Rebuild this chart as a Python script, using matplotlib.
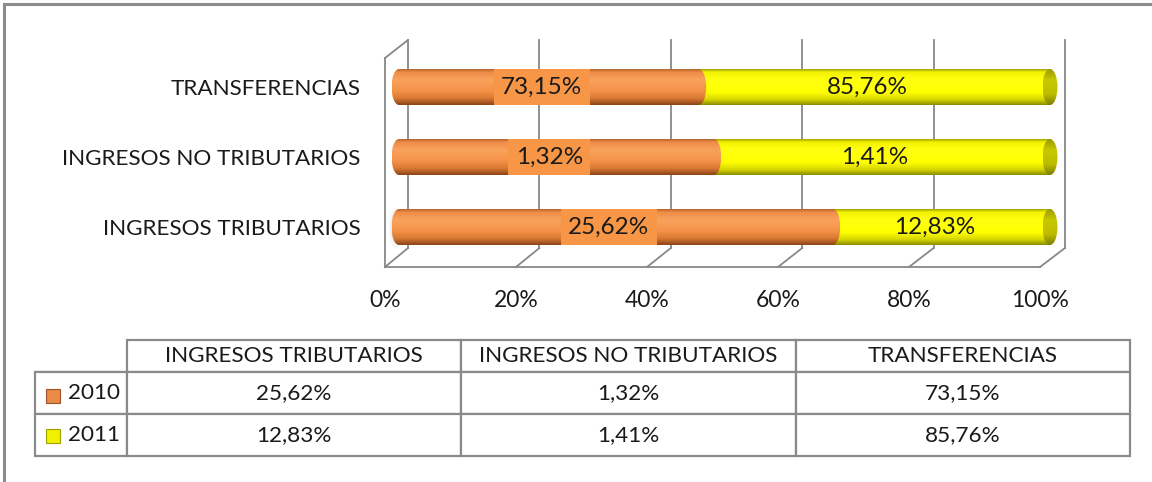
import numpy as np
import matplotlib
matplotlib.use('Agg')
import matplotlib.pyplot as plt
from matplotlib.patches import Ellipse, Rectangle
from matplotlib.lines import Line2D

plt.rcParams['font.family'] = ['Lato', 'DejaVu Sans']

categories = ['INGRESOS TRIBUTARIOS', 'INGRESOS NO TRIBUTARIOS', 'TRANSFERENCIAS']
years = ['2010', '2011']
v2010 = [25.62, 1.32, 73.15]
v2011 = [12.83, 1.41, 85.76]
ticks = [0, 0.2, 0.4, 0.6, 0.8, 1.0]
tick_labels = ['0%', '20%', '40%', '60%', '80%', '100%']

W, H = 1152, 482
fig = plt.figure(figsize=(W / 100, H / 100), dpi=100)


def fx(px):
    return px / W


def fy(py):
    return 1 - py / H


# figure frame (top and left edge visible)
fig.add_artist(Line2D([fx(4), 1], [fy(4), fy(4)], color='#8c8c8c', lw=2.2))
fig.add_artist(Line2D([fx(4), fx(4)], [fy(4), 0], color='#8c8c8c', lw=2.2))

# main chart axes; x data: 0 -> px 399, 1 -> px 1050 ; y: cat i -> px 227-70*i
ax = fig.add_axes([fx(380), fy(272), (1070 - 380) / W, (272 - 36) / H])
X0, XS = 399.0, 651.0
Y0, YS = 227.0, 70.0


def dx(px):
    return (px - X0) / XS


def dy(py):
    return (Y0 - py) / YS


# 3D wall / floor frame
gcol = '#888888'
for v in ticks:
    xb = 408 + 657 * v
    xf = 385 + 655 * v
    ax.plot([dx(xb), dx(xb)], [dy(40), dy(248)], color=gcol, lw=1.3, zorder=1)
    ax.plot([dx(xb), dx(xf)], [dy(248), dy(267)], color=gcol, lw=1.3, zorder=1)
ax.plot([dx(385), dx(1040)], [dy(267), dy(267)], color=gcol, lw=1.3, zorder=1)
ax.plot([dx(385), dx(385)], [dy(58), dy(267)], color=gcol, lw=1.3, zorder=1)
ax.plot([dx(385), dx(408)], [dy(58), dy(40)], color=gcol, lw=1.3, zorder=1)

# soft shadow at the left wall
for i, a in enumerate([0.05, 0.08, 0.12]):
    ax.add_patch(Ellipse((dx(396), dy(228)), (14 - 4 * i) / XS, (40 - 8 * i) / YS,
                         color='#555555', alpha=a, lw=0, zorder=1.5))


def grad(stops):
    pos = np.array([s[0] for s in stops])
    cols = np.array([matplotlib.colors.to_rgb(s[1]) for s in stops])
    t = np.linspace(0, 1, 64)
    arr = np.stack([np.interp(t, pos, cols[:, k]) for k in range(3)], axis=1)
    return arr[:, None, :]


# top -> bottom
orange_g = grad([(0, '#B8652E'), (0.08, '#EE8C48'), (0.3, '#F9A25C'), (0.6, '#F5934A'),
                 (0.82, '#D97832'), (1, '#8C4519')])
yellow_g = grad([(0, '#A8A800'), (0.08, '#F2F200'), (0.3, '#FFFF10'), (0.65, '#FFFF00'),
                 (0.85, '#D6D600'), (1, '#8E8E00')])
yellow_cap = grad([(0, '#9A9A00'), (0.3, '#C8C800'), (0.7, '#BDBD00'), (1, '#7E7E00')])

ypos = np.arange(len(categories))
share10 = np.array(v2010) / (np.array(v2010) + np.array(v2011))
share11 = 1 - share10
bh = 36 / YS
ew = 15 / XS

b10 = ax.barh(ypos, share10, height=bh, color='#F79646', lw=0, zorder=2)
b11 = ax.barh(ypos, share11, left=share10, height=bh, color='#FFFF00', lw=0, zorder=2)


def shade(patch, g, z):
    x0, y0 = patch.get_x(), patch.get_y()
    ax.imshow(g, extent=[x0, x0 + patch.get_width(), y0, y0 + patch.get_height()],
              aspect='auto', zorder=z, interpolation='bilinear')


def cap(xc, yc, g, z):
    e = Ellipse((xc, yc), ew, bh, facecolor='none', lw=0, zorder=z)
    ax.add_patch(e)
    im = ax.imshow(g, extent=[xc - ew / 2, xc + ew / 2, yc - bh / 2, yc + bh / 2],
                   aspect='auto', zorder=z, interpolation='bilinear')
    im.set_clip_path(e)


for p10, p11, y, s in zip(b10, b11, ypos, share10):
    cap(0, y, orange_g, 2.1)
    shade(p10, orange_g, 2.2)
    shade(p11, yellow_g, 2.2)
    cap(s, y, orange_g, 2.3)
    cap(1, y, yellow_cap, 2.4)

# data labels
off = -0.011
for y, s, a, b in zip(ypos, share10, v2010, v2011):
    ax.text(s / 2 + off, y, f'{a:.2f}%'.replace('.', ','), ha='center', va='center',
            fontsize=17.5, color='#1a1a1a', zorder=5,
            bbox=dict(boxstyle='square,pad=0.3', fc='#F79646', ec='none'))
    ax.text(s + (1 - s) / 2 + off, y, f'{b:.2f}%'.replace('.', ','), ha='center',
            va='center', fontsize=17.5, color='#1a1a1a', zorder=5)

ax.set_yticks(ypos)
ax.set_yticklabels(categories, fontsize=16.2, color='#1a1a1a')
ax.set_xticks([dx(385 + 655 * v) for v in ticks])
ax.set_xticklabels(tick_labels, fontsize=16.5, color='#1a1a1a')
ax.tick_params(axis='both', length=0)
ax.tick_params(axis='y', pad=14)
ax.tick_params(axis='x', pad=13)
for sp in ax.spines.values():
    sp.set_visible(False)
ax.set_xlim(dx(380), dx(1070))
ax.set_ylim(dy(272), dy(36))

# data table: first column holds the series names, corner cell left open
tax = fig.add_axes([fx(35), fy(456), (1130 - 35) / W, (456 - 340) / H])
tax.axis('off')
fmt = lambda v: f'{v:.2f}%'.replace('.', ',')
rows = [[''] + categories,
        [years[0]] + [fmt(v) for v in v2010],
        [years[1]] + [fmt(v) for v in v2011]]
tbl = tax.table(cellText=rows, cellLoc='center', bbox=[0, 0, 1, 1])
tbl.auto_set_font_size(False)
tbl.set_fontsize(16.2)
colw = [92, 335, 335, 335]
rowh = [32, 42, 42]
for (r, c), cell in tbl.get_celld().items():
    cell.set_edgecolor('#8a8a8a')
    cell.set_linewidth(1.6)
    cell.set_width(colw[c])
    cell.set_height(rowh[r])
    cell.get_text().set_color('#1a1a1a')
    if c == 0:
        cell.get_text().set_horizontalalignment('right')
        cell._loc = 'right'
        cell.PAD = 0.07
tbl[0, 0].visible_edges = 'B'

# legend keys in the table
key_g = {'2010': ('#E98A45', '#A0522D'), '2011': ('#F0F000', '#A0A000')}
for py, yr in zip([395.5, 435.5], years):
    fc, ec = key_g[yr]
    fig.add_artist(Rectangle((fx(46), fy(py + 7)), 14 / W, 14 / H,
                             facecolor=fc, edgecolor=ec, lw=0.8))

fig.savefig('out.png', dpi=100)
